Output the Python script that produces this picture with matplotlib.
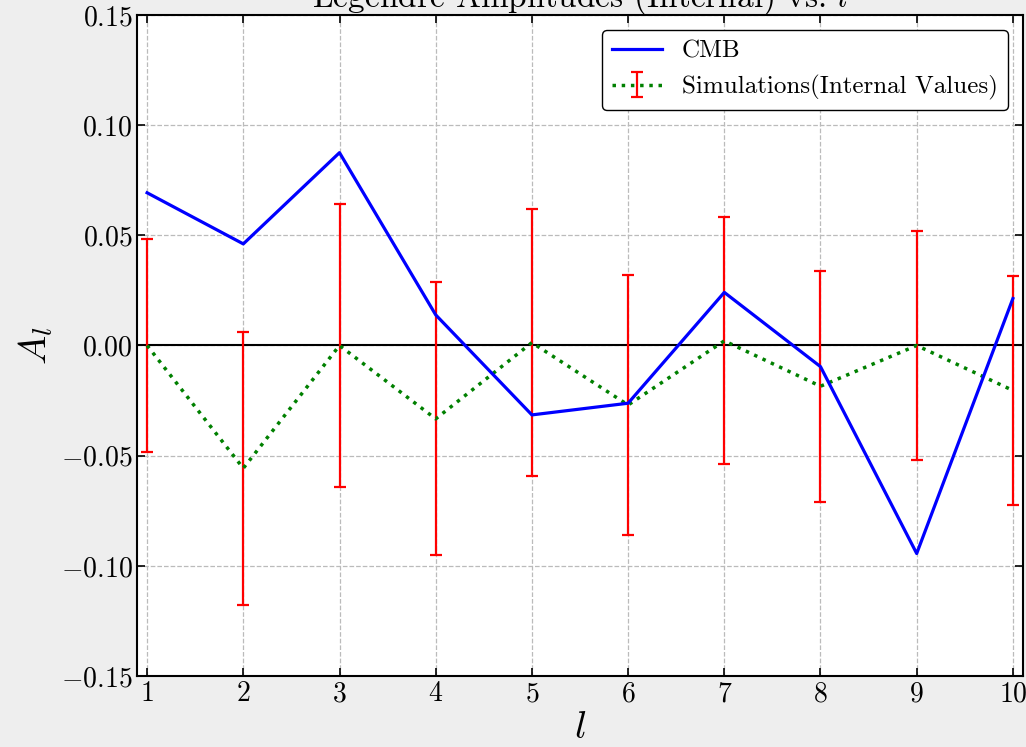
import matplotlib
matplotlib.use("Agg")
import matplotlib.pyplot as plt

# multipole index
ells = [1, 2, 3, 4, 5, 6, 7, 8, 9, 10]

# CMB amplitudes
cmb_amps = [0.0693, 0.0461, 0.0875, 0.0139, -0.0315, -0.0262, 0.0241, -0.0096, -0.0944, 0.0213]

# simulations (internal values): mean and 1-sigma spread
sim_means = [0.0, -0.0557, 0.0, -0.0333, 0.0013, -0.0270, 0.0021, -0.0185, 0.0, -0.0204]
sim_errs = [0.0484, 0.0620, 0.0640, 0.0620, 0.0605, 0.0588, 0.0560, 0.0524, 0.0518, 0.0520]

y_ticks = [-0.15, -0.10, -0.05, 0.00, 0.05, 0.10, 0.15]

plt.rcParams["font.family"] = "serif"
plt.rcParams["font.serif"] = ["cmr10", "DejaVu Serif"]
plt.rcParams["mathtext.fontset"] = "cm"
plt.rcParams["axes.formatter.use_mathtext"] = True
plt.rcParams["axes.unicode_minus"] = True


def plot_amplitudes():
    fig = plt.figure(figsize=(10.26, 7.47), dpi=100)
    fig.set_facecolor("#eeeeee")
    ax = fig.add_axes([0.134, 0.095, 0.8626, 0.885])

    ax.plot(ells, cmb_amps, color="blue", lw=2.3, label="CMB", zorder=3)
    ax.errorbar(ells, sim_means, yerr=sim_errs, fmt=":", color="green", lw=2.5,
                ecolor="red", elinewidth=1.6, capsize=4, capthick=1.6,
                label="Simulations(Internal Values)", zorder=2)
    ax.axhline(0, color="black", lw=1.5, zorder=1)

    ax.set_xlim(0.9, 10.1)
    ax.set_ylim(-0.15, 0.15)
    ax.set_xticks(ells)
    ax.set_yticks(y_ticks)
    ax.yaxis.set_major_formatter(matplotlib.ticker.FormatStrFormatter(r"$%.2f$"))
    ax.xaxis.set_major_formatter(matplotlib.ticker.FormatStrFormatter(r"$%d$"))
    ax.tick_params(direction="in", top=True, right=True, length=6, width=1.2,
                   labelsize=20)
    for spine in ax.spines.values():
        spine.set_linewidth(1.5)

    ax.grid(True, linestyle="--", color="#bbbbbb", lw=0.9)
    ax.set_axisbelow(True)

    ax.set_xlabel(r"$l$", fontsize=28, labelpad=2)
    ax.set_ylabel(r"$A_l$", fontsize=28, labelpad=4)
    ax.set_title(r"Legendre Amplitudes (Internal) vs. $l$", fontsize=24)

    leg = ax.legend(loc="upper right", fontsize=18, frameon=True, fancybox=True,
                    framealpha=1, edgecolor="black", borderaxespad=0.6)
    leg.get_frame().set_linewidth(1.0)

    fig.savefig("out.png", dpi=100, facecolor=fig.get_facecolor())


if __name__ == "__main__":
    plot_amplitudes()
